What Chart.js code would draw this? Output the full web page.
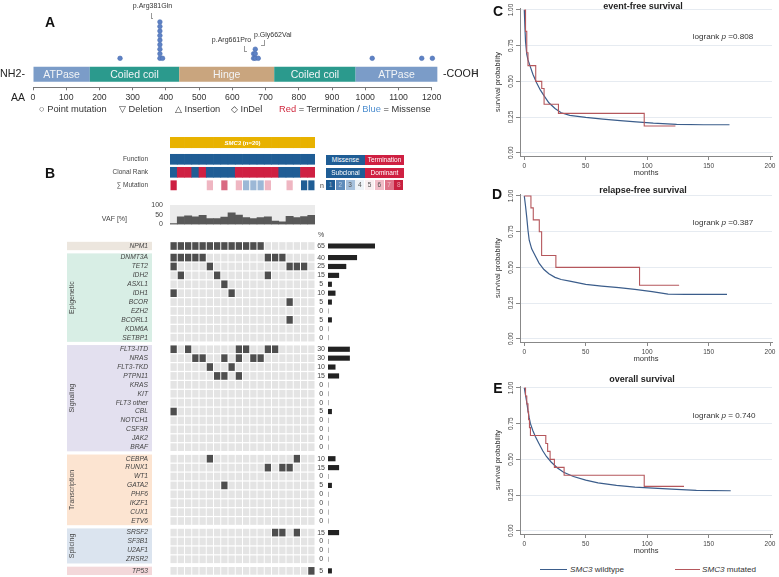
<!DOCTYPE html>
<html>
<head>
<meta charset="utf-8">
<title>SMC3 mutations</title>
<script src="https://cdn.jsdelivr.net/npm/chart.js@4.4.1/dist/chart.umd.min.js"></script>
<style>
  html, body { margin: 0; padding: 0; background: #fff; }
  body { position: relative; width: 779px; height: 577px; overflow: hidden; font-family: "Liberation Sans", Arial, sans-serif; color: #333; }
  canvas { position: absolute; }
  .t { position: absolute; white-space: nowrap; line-height: 1; }
  .ln { position: absolute; background: #999; }
  .box { position: absolute; display: flex; align-items: center; justify-content: center; font-size: 6.5px; line-height: 1; }
</style>
</head>
<body>
<script>
// ---------- A: SMC3 protein, domains and mutations (amino acid positions) ----------
const domainNames = ["ATPase", "Coiled coil", "Hinge", "Coiled coil", "ATPase"];
const domainStart = [0, 171, 440, 726, 971];
const domainEnd = [171, 440, 726, 971, 1217];
const mutAA = [262, 382, 390, 664, 669, 678, 1021, 1170, 1202];
const mutCount = [1, 9, 1, 2, 3, 1, 1, 1, 1];

// ---------- B: oncoprint of the 20 SMC3 mutated patients ----------
const samples = ["P1", "P2", "P3", "P4", "P5", "P6", "P7", "P8", "P9", "P10",
  "P11", "P12", "P13", "P14", "P15", "P16", "P17", "P18", "P19", "P20"];
const funcType = ["Missense", "Missense", "Missense", "Missense", "Missense", "Missense", "Missense",
  "Missense", "Missense", "Missense", "Missense", "Missense", "Missense", "Missense", "Missense",
  "Missense", "Missense", "Missense", "Missense", "Missense"];
const clonal = ["Subclonal", "Dominant", "Dominant", "Subclonal", "Dominant", "Subclonal", "Subclonal",
  "Subclonal", "Subclonal", "Dominant", "Dominant", "Dominant", "Dominant", "Dominant", "Dominant",
  "Subclonal", "Subclonal", "Subclonal", "Dominant", "Dominant"];
const nMut = [6, 3, 3, 3, 3, 4, 3, 5, 3, 4, 2, 2, 2, 4, 3, 3, 4, 3, 1, 1];
const vaf = [5, 39, 44, 39, 47, 31, 31, 38, 60, 48, 36, 31, 36, 39, 18, 14, 42, 35, 40, 47];
const vafTicks = [0, 50, 100];

const genes = ["NPM1",
  "DNMT3A", "TET2", "IDH2", "ASXL1", "IDH1", "BCOR", "EZH2", "BCORL1", "KDM6A", "SETBP1",
  "FLT3-ITD", "NRAS", "FLT3-TKD", "PTPN11", "KRAS", "KIT", "FLT3 other", "CBL", "NOTCH1", "CSF3R", "JAK2", "BRAF",
  "CEBPA", "RUNX1", "WT1", "GATA2", "PHF6", "IKZF1", "CUX1", "ETV6",
  "SRSF2", "SF3B1", "U2AF1", "ZRSR2",
  "TP53"];
const geneGroup = [0,
  1, 1, 1, 1, 1, 1, 1, 1, 1, 1,
  2, 2, 2, 2, 2, 2, 2, 2, 2, 2, 2, 2,
  3, 3, 3, 3, 3, 3, 3, 3,
  4, 4, 4, 4,
  5];
const groupNames = ["", "Epigenetic", "Signaling", "Transcription", "Splicing", ""];
// mutated sample columns (0-based) per gene
const mutCols = [
  [0, 1, 2, 3, 4, 5, 6, 7, 8, 9, 10, 11, 12],
  [0, 1, 2, 3, 4, 13, 14, 15], [0, 5, 16, 17, 18], [1, 6, 13], [7], [0, 8], [16], [], [16], [], [],
  [0, 2, 9, 10, 13, 14], [3, 4, 7, 9, 11, 12], [5, 8], [6, 7, 9], [], [], [], [0], [], [], [], [],
  [5, 17], [13, 15, 16], [], [7], [], [], [], [],
  [14, 15, 17], [], [], [],
  [19]
];
const genePct = [65,
  40, 25, 15, 5, 10, 5, 0, 5, 0, 0,
  30, 30, 10, 15, 0, 0, 0, 5, 0, 0, 0, 0,
  10, 15, 0, 5, 0, 0, 0, 0,
  15, 0, 0, 0,
  5];

// ---------- C-E: Kaplan-Meier curves (months, survival probability) ----------
const monthTicks = [0, 50, 100, 150, 200];
const probTicks = [0, 0.25, 0.5, 0.75, 1];

const efsWtT = [0, 0.5, 1, 2, 3, 5, 7, 10, 13, 16, 20, 25, 30, 37, 50, 64, 78, 91, 105, 124, 146, 167];
const efsWtS = [1, 0.88, 0.78, 0.69, 0.65, 0.60, 0.55, 0.49, 0.44, 0.40, 0.35, 0.31, 0.28, 0.262, 0.248, 0.236, 0.225, 0.216, 0.207, 0.199, 0.196, 0.196];
const efsMutT = [0, 1, 2, 3, 9.3, 14.2, 16.1, 27.8, 97.6, 123];
const efsMutS = [1, 0.85, 0.70, 0.61, 0.50, 0.45, 0.34, 0.276, 0.187, 0.187];

const rfsWtT = [0, 1, 2, 3, 4, 6, 9, 12, 16, 20, 25, 30, 37, 50, 63, 77, 90, 104, 117, 131, 165];
const rfsWtS = [1, 0.93, 0.85, 0.76, 0.69, 0.63, 0.58, 0.53, 0.485, 0.455, 0.43, 0.415, 0.403, 0.381, 0.369, 0.358, 0.346, 0.33, 0.312, 0.31, 0.31];
const rfsMutT = [0, 5.4, 7.3, 12.2, 14.1, 25.7, 93.8, 126];
const rfsMutS = [1, 0.917, 0.833, 0.75, 0.583, 0.5, 0.375, 0.375];

const osWtT = [0, 1, 2, 3, 4, 5, 7, 9, 12, 15, 18, 22, 27, 32, 40, 50, 60, 75, 90, 105, 120, 140, 168];
const osWtS = [1, 0.95, 0.90, 0.84, 0.79, 0.75, 0.70, 0.66, 0.61, 0.56, 0.52, 0.48, 0.44, 0.41, 0.38, 0.355, 0.335, 0.318, 0.305, 0.298, 0.292, 0.283, 0.28];
const osMutT = [0, 1, 2, 3, 3.5, 4.2, 5, 17.5, 19, 21, 24.5, 32.4, 97.6, 130];
const osMutS = [1, 0.944, 0.889, 0.833, 0.778, 0.722, 0.667, 0.611, 0.556, 0.5, 0.444, 0.389, 0.311, 0.311];

// ---------- styles ----------
const BLUE = "#1f5d95";
const RED = "#cf2042";
const domainColors = ["#7b9cc8", "#2b9a8d", "#c9a57e", "#2b9a8d", "#7b9cc8"];
const bandColors = ["#ece6de", "#d8eee5", "#e3e0ef", "#fce4d1", "#dbe4ef", "#f3d8da"];
const sigmaColors = { 1: BLUE, 2: "#9cb8d6", 3: "#ffffff", 4: "#efb6c2", 5: "#d96a82", 6: "#cd1f41" };
const nLegendColors = [BLUE, "#5f8cbb", "#a6c0dc", "#eef2f7", "#f8eef0", "#f0bcc7", "#df7489", "#c8203f"];
const FONT = "'Liberation Sans', Arial, sans-serif";

Chart.defaults.font.family = FONT;
Chart.defaults.color = "#444";
Chart.defaults.animation = false;
Chart.defaults.responsive = false;
Chart.defaults.plugins.legend.display = false;
Chart.defaults.plugins.tooltip.enabled = false;

function makeCanvas(left, top, w, h) {
  const c = document.createElement("canvas");
  c.width = w; c.height = h;
  c.style.left = left + "px"; c.style.top = top + "px";
  c.style.width = w + "px"; c.style.height = h + "px";
  document.body.appendChild(c);
  return c;
}

function text(html, x, y, opt = {}) {
  const d = document.createElement("div");
  d.className = "t";
  d.innerHTML = html;
  d.style.left = x + "px";
  d.style.top = y + "px";
  d.style.fontSize = (opt.size || 8) + "px";
  if (opt.bold) d.style.fontWeight = "bold";
  if (opt.color) d.style.color = opt.color;
  const ax = opt.align === "center" ? "-50%" : opt.align === "right" ? "-100%" : "0";
  d.style.transform = "translate(" + ax + ",-50%)" + (opt.rotate ? " rotate(" + opt.rotate + "deg)" : "");
  document.body.appendChild(d);
  return d;
}

function line(x, y, w, h, color) {
  const d = document.createElement("div");
  d.className = "ln";
  d.style.left = x + "px"; d.style.top = y + "px";
  d.style.width = w + "px"; d.style.height = h + "px";
  if (color) d.style.background = color;
  document.body.appendChild(d);
}

function box(x, y, w, h, bg, label, color) {
  const d = document.createElement("div");
  d.className = "box";
  d.style.left = x + "px"; d.style.top = y + "px";
  d.style.width = w + "px"; d.style.height = h + "px";
  d.style.background = bg; d.style.color = color;
  d.textContent = label;
  document.body.appendChild(d);
}

// ===== Panel A =====
const dotPoints = [];
mutAA.forEach((aa, i) => {
  for (let k = 1; k <= mutCount[i]; k++) dotPoints.push({ x: aa, y: k });
});
const domainY = -2.5; // level of the protein bar below the stacked dots

const domainText = {
  id: "domainText",
  afterDatasetsDraw(chart) {
    const ctx = chart.ctx;
    const meta = chart.getDatasetMeta(0);
    ctx.save();
    ctx.font = "10.5px " + FONT;
    ctx.fillStyle = "#f2f4f6";
    ctx.textAlign = "center";
    ctx.textBaseline = "middle";
    meta.data.forEach((bar, i) => {
      const p = bar.getProps(["x", "y", "base"], true);
      ctx.fillText(domainNames[i], (p.x + p.base) / 2, p.y + 0.5);
    });
    ctx.restore();
  }
};

new Chart(makeCanvas(0, 0, 470, 125), {
  type: "scatter",
  data: {
    datasets: [
      {
        type: "bar",
        indexAxis: "y",
        data: domainNames.map((n, i) => ({ x: [domainStart[i], domainEnd[i]], y: domainY })),
        backgroundColor: domainColors,
        borderWidth: 0,
        barThickness: 15,
        inflateAmount: 0,
        clip: false,
        order: 2
      },
      {
        type: "scatter",
        data: dotPoints,
        pointRadius: 2.3,
        backgroundColor: "#5e82c5",
        borderColor: "#4b6eb2",
        borderWidth: 0.6,
        clip: false,
        order: 1
      }
    ]
  },
  options: {
    responsive: false,
    layout: { padding: { left: 33, right: 38.3, top: 0, bottom: 0 } },
    scales: {
      x: {
        type: "linear", min: 0, max: 1200, offset: false,
        afterFit: s => { s.height = 37.7; s.paddingLeft = 0; s.paddingRight = 0; },
        ticks: { stepSize: 100, font: { size: 8.7 }, color: "#333", padding: 2, maxRotation: 0, autoSkip: false, callback: v => String(v) },
        grid: { display: true, drawOnChartArea: false, drawTicks: true, tickLength: 3, tickColor: "#777", offset: false },
        border: { display: true, color: "#777" }
      },
      y: { type: "linear", display: false, min: -5.375, max: 12.81, offset: false }
    }
  },
  plugins: [domainText]
});

// ===== Panel B =====
const rowPos = genes.map((g, i) => i + 0.3 * geneGroup[i]);

function rowAxis(positions, labels, min, max, font, padding, width, crossAlign) {
  return {
    type: "linear", reverse: true, min, max, offset: false,
    afterBuildTicks: s => { s.ticks = positions.map(v => ({ value: v })); },
    afterFit: s => { s.width = width; s.paddingTop = 0; s.paddingBottom = 0; },
    ticks: { autoSkip: false, font, color: "#444", padding, crossAlign: crossAlign || "near", callback: (v, i) => labels[i] },
    grid: { display: false, drawTicks: false },
    border: { display: false }
  };
}

// header rows: SMC3 bar, Function, Clonal Rank, Sum of mutations
const cellRow = (v, half) => samples.map(() => [v - half, v + half]);
new Chart(makeCanvas(0, 130, 315, 65), {
  type: "bar",
  data: {
    labels: samples,
    datasets: [
      { data: cellRow(-0.29, 0.4), backgroundColor: "#e8b200", barPercentage: 1 },
      { data: cellRow(1, 0.385), backgroundColor: funcType.map(f => f === "Missense" ? BLUE : RED), barPercentage: 1 },
      { data: cellRow(2, 0.385), backgroundColor: clonal.map(c => c === "Subclonal" ? BLUE : RED), barPercentage: 1 },
      { data: cellRow(3, 0.38), backgroundColor: nMut.map(n => sigmaColors[n]), barPercentage: 0.86 }
    ].map(d => Object.assign(d, { grouped: false, categoryPercentage: 1, borderWidth: 0 }))
  },
  options: {
    layout: { padding: 0 },
    scales: {
      x: { type: "category", display: false, offset: true },
      y: rowAxis([1, 2, 3], ["Function", "Clonal Rank", "\u2211 Mutation"], -1.254, 3.746, { size: 6.5 }, 22, 170)
    }
  }
});

// VAF bars
const vafBg = {
  id: "vafBg",
  beforeDatasetsDraw(chart) {
    const { ctx, chartArea: a } = chart;
    ctx.save();
    ctx.fillStyle = "#ebebeb";
    ctx.fillRect(a.left, a.top, a.right - a.left, a.bottom - a.top);
    ctx.restore();
  }
};
new Chart(makeCanvas(130, 200, 185, 30), {
  type: "bar",
  data: { labels: samples, datasets: [{ data: vaf, backgroundColor: "#595959", barPercentage: 1, categoryPercentage: 1, borderWidth: 0 }] },
  options: {
    layout: { padding: { top: 5, bottom: 5.5, left: 0, right: 0 } },
    scales: {
      x: { display: false },
      y: {
        min: 0, max: 100,
        afterBuildTicks: s => { s.ticks = vafTicks.map(v => ({ value: v })); },
        afterFit: s => { s.width = 40; s.paddingTop = 0; s.paddingBottom = 0; },
        ticks: { font: { size: 7 }, color: "#444", padding: 7, autoSkip: false },
        grid: { display: false, drawTicks: false },
        border: { display: false }
      }
    }
  },
  plugins: [vafBg]
});

// mutation matrix
const groupBands = {
  id: "groupBands",
  beforeDraw(chart) {
    const ctx = chart.ctx;
    const y = chart.scales.y;
    ctx.save();
    groupNames.forEach((name, g) => {
      const pos = rowPos.filter((_, i) => geneGroup[i] === g);
      const top = y.getPixelForValue(pos[0] - 0.47);
      const bottom = y.getPixelForValue(pos[pos.length - 1] + 0.47);
      ctx.fillStyle = bandColors[g];
      ctx.fillRect(67, top, 85, bottom - top);
      if (name) {
        ctx.save();
        ctx.translate(72, (top + bottom) / 2);
        ctx.rotate(-Math.PI / 2);
        ctx.fillStyle = "#444";
        ctx.font = "7px " + FONT;
        ctx.textAlign = "center";
        ctx.textBaseline = "middle";
        ctx.fillText(name, 0, 0);
        ctx.restore();
      }
    });
    ctx.restore();
  }
};

const rowMin = -1.236, rowMax = 37.19;
new Chart(makeCanvas(0, 235, 315, 342), {
  type: "bar",
  data: {
    labels: samples,
    datasets: genes.map((g, i) => ({
      label: g,
      data: cellRow(rowPos[i], 0.43),
      backgroundColor: samples.map((_, c) => mutCols[i].includes(c) ? "#4e4e4e" : "#e4e4e4"),
      grouped: false, categoryPercentage: 1, barPercentage: 0.87, borderWidth: 0, inflateAmount: 0
    }))
  },
  options: {
    layout: { padding: 0 },
    scales: {
      x: { type: "category", display: false, offset: true },
      y: rowAxis(rowPos, genes, rowMin, rowMax, { size: 6.7, style: "italic" }, 22, 170)
    }
  },
  plugins: [groupBands]
});

// mutation frequency bars
new Chart(makeCanvas(312, 235, 100, 342), {
  type: "bar",
  data: {
    datasets: [{
      data: genes.map((g, i) => ({ x: genePct[i], y: rowPos[i] })),
      backgroundColor: "#222",
      barThickness: 4.5,
      borderWidth: 0
    }]
  },
  options: {
    indexAxis: "y",
    layout: { padding: 0 },
    scales: {
      x: { type: "linear", display: false, min: 0, max: 117 },
      y: rowAxis(rowPos, genePct.map(String), rowMin, rowMax, { size: 7 }, 3, 16, "center")
    }
  }
});

// ===== Panels C-E =====
function survivalChart(top, wtT, wtS, mutT, mutS) {
  return new Chart(makeCanvas(470, top, 309, 180), {
    type: "line",
    data: {
      datasets: [
        {
          label: "SMC3 mutated",
          data: mutT.map((t, i) => ({ x: t, y: mutS[i] })),
          stepped: true, borderColor: "#b5575c", borderWidth: 1.1, pointRadius: 0, fill: false, order: 0
        },
        {
          label: "SMC3 wildtype",
          data: wtT.map((t, i) => ({ x: t, y: wtS[i] })),
          borderColor: "#3b5d8b", borderWidth: 1.2, pointRadius: 0, tension: 0, fill: false, order: 1
        }
      ]
    },
    options: {
      layout: { padding: { top: 8, right: 7, left: 0, bottom: 0 } },
      scales: {
        x: {
          type: "linear", min: -3.5, max: 201.6,
          afterBuildTicks: s => { s.ticks = monthTicks.map(v => ({ value: v })); },
          afterFit: s => { s.height = 24; s.paddingLeft = 0; s.paddingRight = 0; },
          ticks: { font: { size: 6.5 }, color: "#444", padding: 2, maxRotation: 0, autoSkip: false },
          grid: { display: true, drawOnChartArea: false, drawTicks: true, tickLength: 4, tickColor: "#888" },
          border: { display: true, color: "#888" },
          title: { display: true, text: "months", font: { size: 7.6 }, color: "#333", padding: { top: 0, bottom: 2.4 } }
        },
        y: {
          type: "linear", min: -0.023, max: 1.014,
          afterBuildTicks: s => { s.ticks = probTicks.map(v => ({ value: v })); },
          afterFit: s => { s.width = 50; s.paddingTop = 0; s.paddingBottom = 0; },
          ticks: {
            font: { size: 6.5 }, color: "#444", minRotation: 90, maxRotation: 90, crossAlign: "center",
            padding: -1.3, autoSkip: false, callback: v => v.toFixed(2)
          },
          grid: { display: true, drawOnChartArea: true, color: "#e6ebf1", tickColor: "#888", tickLength: 4, drawTicks: true },
          border: { display: true, color: "#888" },
          title: { display: true, text: "survival probability", font: { size: 7.3 }, color: "#333", padding: { top: 23.6, bottom: 0 } }
        }
      }
    }
  });
}
survivalChart(0, efsWtT, efsWtS, efsMutT, efsMutS);
survivalChart(185.7, rfsWtT, rfsWtS, rfsMutT, rfsMutS);
survivalChart(377.7, osWtT, osWtS, osMutT, osMutS);

// ===== Texts and legends =====
// Panel A
text("A", 50, 21.5, { size: 14, bold: true, align: "center", color: "#111" });
text("NH2-", 0, 73, { size: 10.7, color: "#222" });
text("-COOH", 443, 73, { size: 10.7, color: "#222" });
text("AA", 11, 97, { size: 10.5, color: "#222" });
text("p.Arg381Gln", 152.5, 5, { size: 7, align: "center", color: "#333" });
text("p.Arg661Pro", 231.5, 39.3, { size: 7, align: "center", color: "#333" });
text("p.Gly662Val", 254, 34.3, { size: 7, color: "#333" });
line(150.5, 13, 0.8, 5.3); line(150.5, 17.8, 2.6, 0.8);
line(244, 45.5, 0.8, 6.2); line(244, 51.2, 2.8, 0.8);
line(264, 39.8, 0.8, 6.2); line(261.4, 45.3, 3.2, 0.8);
text("\u25CB Point mutation", 39, 110, { size: 9.3, color: "#333" });
text("\u25BD Deletion", 119, 110, { size: 9.3, color: "#333" });
text("\u25B3 Insertion", 175, 110, { size: 9.3, color: "#333" });
text("\u25C7 InDel", 231, 110, { size: 9.3, color: "#333" });
text('<span style="color:#d0283e">Red</span> = Termination / <span style="color:#4f8fd0">Blue</span> = Missense', 279, 110, { size: 9.3, color: "#333" });

// Panel B
text("B", 50, 173, { size: 14, bold: true, align: "center", color: "#111" });
text("<i>SMC3</i> (n=20)", 242.5, 142.7, { size: 6, bold: true, align: "center", color: "#fff" });
text("VAF [%]", 127, 218, { size: 7, align: "right", color: "#444" });
text("%", 321, 234, { size: 7, align: "center", color: "#444" });
box(326, 155, 39, 9.5, BLUE, "Missense", "#fff");
box(365, 155, 39, 9.5, RED, "Termination", "#fff");
box(326, 168, 39, 9.5, BLUE, "Subclonal", "#fff");
box(365, 168, 39, 9.5, RED, "Dominant", "#fff");
text("n", 320, 184.5, { size: 7, color: "#444" });
nLegendColors.forEach((c, k) => {
  const light = k >= 2 && k <= 5;
  box(326 + k * 9.75, 180, 9.2, 9.5, c, String(k + 1), light ? "#555" : "rgba(255,255,255,0.55)");
});

// Panels C-E
text("C", 498, 11, { size: 14, bold: true, align: "center", color: "#111" });
text("D", 497, 194, { size: 14, bold: true, align: "center", color: "#111" });
text("E", 498, 387.5, { size: 14, bold: true, align: "center", color: "#111" });
text("H", 475, 72, { size: 9, align: "center", color: "#444" });
text("event-free survival", 643, 6, { size: 9, bold: true, align: "center", color: "#222" });
text("relapse-free survival", 643, 189.5, { size: 9, bold: true, align: "center", color: "#222" });
text("overall survival", 642, 378.5, { size: 9, bold: true, align: "center", color: "#222" });
text("logrank <i>p</i> =0.808", 692.7, 37.3, { size: 8.1, color: "#333" });
text("logrank <i>p</i> =0.387", 692.7, 223.3, { size: 8.1, color: "#333" });
text("logrank <i>p</i> = 0.740", 692.7, 416, { size: 8.1, color: "#333" });
line(540, 568.8, 27, 1.2, "#3b5d8b");
text("<i>SMC3</i> wildtype", 570, 569.5, { size: 8.1, color: "#333" });
line(675, 568.8, 24.5, 1.2, "#b5575c");
text("<i>SMC3</i> mutated", 702, 569.5, { size: 8.1, color: "#333" });
</script>
</body>
</html>
